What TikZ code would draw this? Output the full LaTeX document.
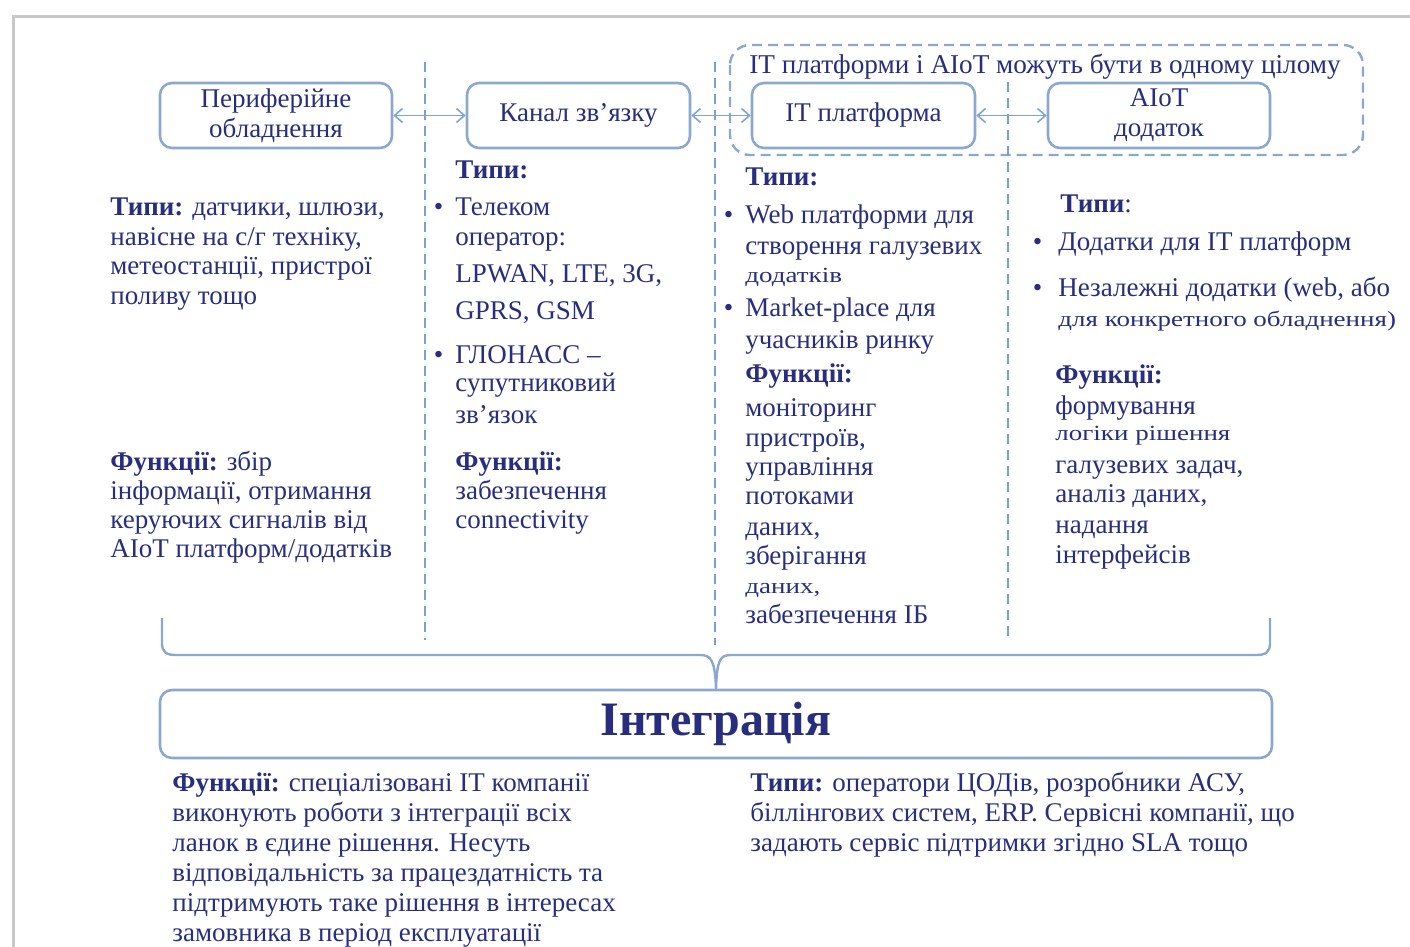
\documentclass[tikz,border=0pt]{standalone}
\usepackage{fontspec}
\usepackage{graphicx}
\setmainfont{Liberation Serif}
\usetikzlibrary{arrows.meta}
\definecolor{navy}{RGB}{40,46,125}
\definecolor{boxc}{RGB}{140,168,205}
\definecolor{dashc}{RGB}{120,160,215}
\definecolor{arrc}{RGB}{125,165,215}
\definecolor{framec}{RGB}{200,200,200}
\newcommand\bul[1]{\llap{\textbullet\hspace{#1}}}
\newcommand\TLine[4]{\node[txt] (#1) at (#2,#3+8) {#4};}
\newcommand\SLine[4]{\node[txt] (#1) at (#2,#3+6) {\scalebox{1}[0.8]{#4}};}
\begin{document}
\begin{tikzpicture}[x=0.5pt,y=-0.5pt,
  txt/.style={anchor=base west,inner sep=0pt,text=navy,font=\fontsize{13.5}{15}\selectfont},
  c1/.style={font=\fontsize{13.2}{15}\selectfont},
  boxn/.style={draw=boxc,line width=1.3pt,rounded corners=6pt,fill=white,text=navy,
     align=center,font=\fontsize{13.5}{15}\selectfont,inner sep=2pt,minimum height=32.5pt},
  biarrow/.style={draw=arrc,line width=0.8pt,{Straight Barb[length=4pt,width=7pt]}-{Straight Barb[length=4pt,width=7pt]}},
  vdash/.style={draw=dashc,line width=1pt,dash pattern=on 5pt off 3pt},
  grpbox/.style={draw=boxc,line width=1.2pt,dash pattern=on 5pt off 3pt,rounded corners=10pt},
  brace/.style={draw=boxc,line width=1.2pt},
  framel/.style={draw=framec,line width=1.5pt}]
\useasboundingbox (0,0) rectangle (1410,947);
% frame
\draw[framel] (1410,17) -- (13,17) -- (13,947);
% group dashed box
\draw[grpbox] (730,45) rectangle (1363,155);
\node[text=navy,font=\fontsize{13.6}{15}\selectfont,inner sep=0pt] (grplbl) at (1045,67) {IT платформи і AIoT можуть бути в одному цілому};
% vertical dashed separators
\coordinate (s1t) at (425,62); \coordinate (s1b) at (425,640);
\coordinate (s2t) at (715,62); \coordinate (s2b) at (715,645);
\coordinate (s3t) at (1008,82); \coordinate (s3b) at (1008,640);
\draw[vdash] (s1t) -- (s1b);
\draw[vdash] (s2t) -- (s2b);
\draw[vdash] (s3t) -- (s3b);
% top boxes
\node[boxn,minimum width=116pt] (b1) at (276,115.5) {Периферійне\\[0pt]обладнення};
\node[boxn,minimum width=111.5pt] (b2) at (578.5,115.5) {\raisebox{2pt}{Канал зв'язку}};
\node[boxn,minimum width=111.5pt] (b3) at (863.5,115.5) {\raisebox{2pt}{IT платформа}};
\node[boxn,minimum width=111pt] (b4) at (1159,115.5) {AIoT\\[0pt]додаток};
\draw[biarrow] (b1.east) -- (b2.west);
\draw[biarrow] (b2.east) -- (b3.west);
\draw[biarrow] (b3.east) -- (b4.west);
% integration box
\node[boxn,minimum width=556pt,minimum height=34pt,font=\fontsize{24}{28}\selectfont\bfseries] (int) at (716,724) {Інтеграція};
\draw[brace] (162,618) -- (162,643) .. controls (162,652) and (166,655) .. (176,655) -- (700,655)
   .. controls (711,655) and (715,660) .. (int.north)
   .. controls (717,660) and (720,655) .. (731,655) -- (1256,655)
   .. controls (1266,655) and (1270,652) .. (1270,643) -- (1270,618);
% column 1
\begin{scope}[every node/.append style={c1}]
\TLine{c1a}{110}{208}{\textbf{Типи:} датчики, шлюзи,}
\TLine{c1b}{110}{238}{навісне на с/г техніку,}
\TLine{c1c}{110}{267}{метеостанції, пристрої}
\TLine{c1d}{110}{296}{поливу тощо}
\TLine{c1e}{110}{462}{\textbf{Функції:} збір}
\TLine{c1f}{110}{491}{інформації, отримання}
\TLine{c1g}{110}{520}{керуючих сигналів від}
\TLine{c1h}{110}{549}{AIoT платформ/додатків}
\end{scope}
% column 2
\TLine{c2a}{455}{170}{\textbf{Типи:}}
\TLine{c2b}{455}{207}{\bul{6pt}Телеком}
\TLine{c2c}{455}{238}{оператор:}
\TLine{c2d}{455}{274}{LPWAN, LTE, 3G,}
\TLine{c2e}{455}{312}{GPRS, GSM}
\TLine{c2f}{455}{355}{\bul{6pt}ГЛОНАСС –}
\TLine{c2g}{455}{383}{супутниковий}
\TLine{c2h}{455}{415}{зв'язок}
\TLine{c2i}{455}{462}{\textbf{Функції:}}
\TLine{c2j}{455}{491}{забезпечення}
\TLine{c2k}{455}{520}{connectivity}
% column 3
\TLine{c3a}{745}{178}{\textbf{Типи:}}
\TLine{c3b}{745}{216}{\bul{6pt}Web платформи для}
\TLine{c3c}{745}{247}{створення галузевих}
\SLine{c3d}{745}{276}{додатків}
\TLine{c3e}{745}{308}{\bul{6pt}Market-place для}
\TLine{c3f}{745}{340}{учасників ринку}
\TLine{c3g}{745}{374}{\textbf{Функції:}}
\TLine{c3h}{745}{408}{моніторинг}
\TLine{c3i}{745}{438}{пристроїв,}
\TLine{c3j}{745}{467}{управління}
\TLine{c3k}{745}{496}{потоками}
\TLine{c3l}{745}{527}{даних,}
\TLine{c3m}{745}{556}{зберігання}
\SLine{c3n}{745}{587}{даних,}
\TLine{c3o}{745}{615}{забезпечення ІБ}
% column 4
\TLine{c4a}{1060}{205}{\textbf{Типи}:}
\TLine{c4b}{1058}{242}{\bul{8pt}Додатки для IT платформ}
\TLine{c4c}{1058}{288}{\bul{8pt}Незалежні додатки (web, або}
\SLine{c4d}{1058}{321}{для конкретного обладнення)}
\TLine{c4e}{1055}{375}{\textbf{Функції:}}
\TLine{c4f}{1055}{406}{формування}
\SLine{c4g}{1055}{434}{логіки рішення}
\TLine{c4h}{1055}{465}{галузевих задач,}
\TLine{c4i}{1055}{494}{аналіз даних,}
\TLine{c4j}{1055}{525}{надання}
\TLine{c4k}{1055}{555}{інтерфейсів}
% bottom left
\TLine{d1a}{172}{783}{\textbf{Функції:} спеціалізовані IT компанії}
\TLine{d1b}{172}{813}{виконують роботи з інтеграції всіх}
\TLine{d1c}{172}{843}{ланок в єдине рішення. Несуть}
\TLine{d1d}{172}{873}{відповідальність за працездатність та}
\TLine{d1e}{172}{903}{підтримують таке рішення в інтересах}
\TLine{d1f}{172}{933}{замовника в період експлуатації}
% bottom right
\TLine{d2a}{750}{783}{\textbf{Типи:} оператори ЦОДів, розробники АСУ,}
\TLine{d2b}{750}{813}{біллінгових систем, ERP. Сервісні компанії, що}
\TLine{d2c}{750}{843}{задають сервіс підтримки згідно SLA тощо}
\end{tikzpicture}
\end{document}
